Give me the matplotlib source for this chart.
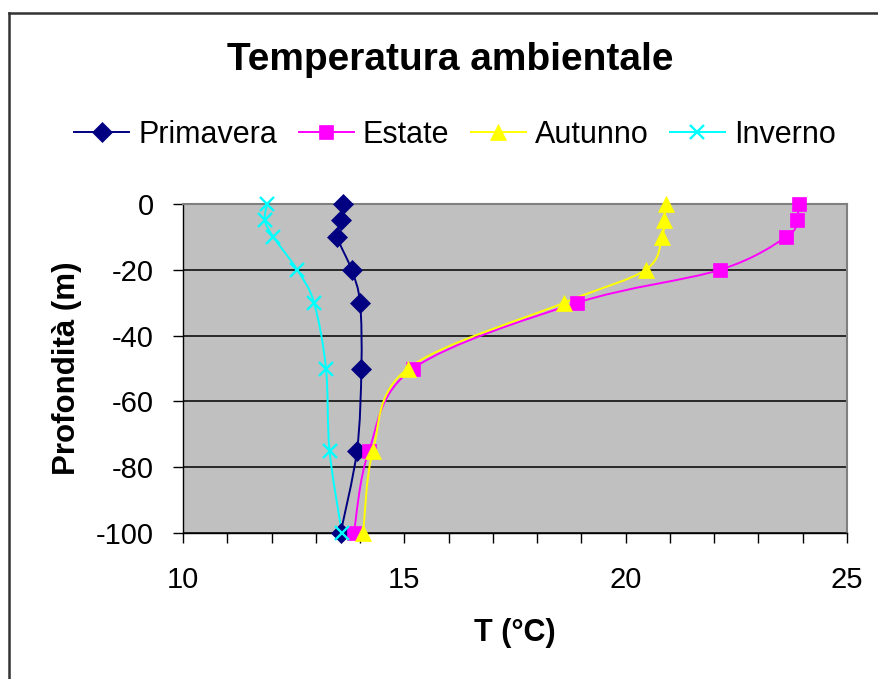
import numpy as np
import matplotlib
matplotlib.use('Agg')
import matplotlib.pyplot as plt
from matplotlib.path import Path
from matplotlib.patches import PathPatch
from matplotlib.lines import Line2D
from matplotlib.ticker import MultipleLocator

plt.rcParams['font.family'] = ['Liberation Sans', 'DejaVu Sans']
plt.rcParams['axes.unicode_minus'] = False

# depth (m) and temperature (C) for each season
depth = [0, -5, -10, -20, -30, -50, -75, -100]
primavera = [13.61, 13.58, 13.49, 13.81, 14.00, 14.03, 13.93, 13.56]
estate = [23.91, 23.86, 23.63, 22.13, 18.91, 15.20, 14.20, 13.86]
autunno = [20.91, 20.87, 20.82, 20.45, 18.61, 15.08, 14.29, 14.07]
inverno = [11.90, 11.85, 12.04, 12.58, 12.96, 13.23, 13.31, 13.59]

series = [('Primavera', primavera, '#000080', 'D', 10),
          ('Estate', estate, '#FF00FF', 's', 10),
          ('Autunno', autunno, '#FFFF00', '^', 11),
          ('Inverno', inverno, '#00FFFF', 'x', 10)]


def smooth_path(x, y):
    # excel-like smoothed line: cubic bezier through the points
    p = np.column_stack([x, y]).astype(float)
    n = len(p)
    verts = [p[0]]
    codes = [Path.MOVETO]
    for i in range(n - 1):
        a = p[i - 1] if i > 0 else p[i]
        b = p[i + 2] if i + 2 < n else p[i + 1]
        c1 = p[i] + (p[i + 1] - a) / 6.0
        c2 = p[i + 1] - (b - p[i]) / 6.0
        verts += [c1, c2, p[i + 1]]
        codes += [Path.CURVE4] * 3
    return Path(verts, codes)


fig = plt.figure(figsize=(8.79, 6.79), dpi=100)
ax = fig.add_axes([183 / 879, 146 / 679, 664 / 879, 329 / 679])
ax.set_facecolor('#C0C0C0')

handles = []
for name, temps, col, mk, ms in series:
    ax.add_patch(PathPatch(smooth_path(temps, depth), facecolor='none',
                           edgecolor=col, lw=1.4, zorder=3))
    mew = 1.7 if mk == 'x' else 0.5
    ax.plot(temps, depth, linestyle='none', marker=mk, ms=ms, color=col,
            mec=col, mew=mew, zorder=4, clip_on=False)
    handles.append(Line2D([], [], color=col, lw=1.4, marker=mk, ms=ms,
                          mec=col, mew=mew, label=name))

ax.set_xlim(10, 25)
ax.set_ylim(-100, 0)
ax.xaxis.set_major_locator(MultipleLocator(5))
ax.xaxis.set_minor_locator(MultipleLocator(1))
ax.yaxis.set_major_locator(MultipleLocator(20))
ax.grid(axis='y', color='black', lw=1.1, zorder=1)
ax.set_axisbelow(True)

for s in ['top', 'right']:
    ax.spines[s].set_color('#808080')
    ax.spines[s].set_linewidth(1.5)
for s in ['left', 'bottom']:
    ax.spines[s].set_color('black')
    ax.spines[s].set_linewidth(1.0)

ax.tick_params(axis='x', which='both', direction='out', length=7, width=1,
               labelsize=21, pad=17)
ax.tick_params(axis='y', direction='out', length=7, width=1,
               labelsize=21, pad=14)

ax.set_xlabel('T (°C)', fontsize=22, fontweight='bold', labelpad=17)
ax.set_ylabel('Profondità (m)', fontsize=22.5, fontweight='bold', labelpad=10)

fig.text(450 / 879, 1 - 60 / 679, 'Temperatura ambientale', fontsize=28,
         fontweight='bold', ha='center', va='center')

fig.legend(handles=handles, loc='center', bbox_to_anchor=(455 / 879, 1 - 135 / 679),
           ncol=4, frameon=False, fontsize=22, handlelength=1.8,
           handletextpad=0.3, columnspacing=0.7)

# chart outer frame (left and top edges only)
fig.add_artist(Line2D([9 / 879, 9 / 879], [0, 1 - 13 / 679], color='#333333', lw=1.8,
                      transform=fig.transFigure))
fig.add_artist(Line2D([9 / 879, 1], [1 - 13 / 679, 1 - 13 / 679], color='#333333', lw=1.8,
                      transform=fig.transFigure))

fig.savefig('out.png', dpi=100)
